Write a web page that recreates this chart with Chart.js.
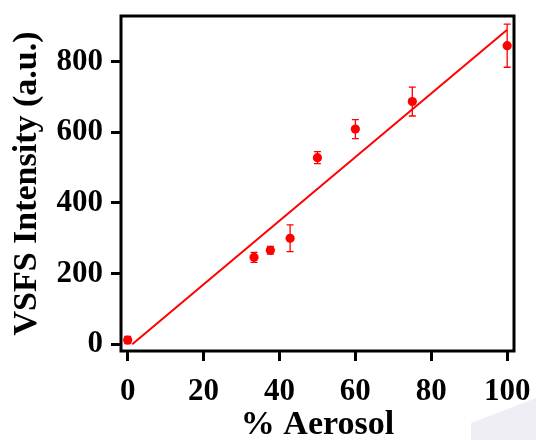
<!DOCTYPE html>
<html>
<head>
<meta charset="utf-8">
<script src="https://cdn.jsdelivr.net/npm/chart.js"></script>
<style>
  html, body { margin: 0; padding: 0; background: #fff; }
  #wrap { width: 536px; height: 440px; position: relative; }
</style>
</head>
<body>
<div id="wrap"><canvas id="vsfsChart" width="536" height="440"></canvas></div>
<script>
// VSFS intensity vs. aerosol fraction, with error bars and linear fit
const aerosolPct = [0, 33.3, 37.6, 42.8, 50, 60, 75, 100];
const intensity = [12, 246, 266, 300, 528, 609, 687, 845];
const intensityErr = [10, 14, 11, 38, 17, 27, 41, 61];

const fitX = [1.2, 100];
const fitY = [0, 890];

const xTicks = [0, 20, 40, 60, 80, 100];
const yTicks = [0, 200, 400, 600, 800];

const RED = '#ff0000';
const serif = 'Liberation Serif, Times New Roman, serif';

// vertical error bars with small caps
const errorBars = {
  id: 'errorBars',
  beforeDatasetsDraw(chart) {
    const { ctx, scales: { x, y } } = chart;
    ctx.save();
    ctx.strokeStyle = RED;
    ctx.lineWidth = 1.3;
    aerosolPct.forEach((v, i) => {
      const px = x.getPixelForValue(v);
      const top = y.getPixelForValue(intensity[i] + intensityErr[i]);
      const bot = y.getPixelForValue(intensity[i] - intensityErr[i]);
      ctx.beginPath();
      ctx.moveTo(px, top); ctx.lineTo(px, bot);
      ctx.moveTo(px - 3.5, top); ctx.lineTo(px + 3.5, top);
      ctx.moveTo(px - 3.5, bot); ctx.lineTo(px + 3.5, bot);
      ctx.stroke();
    });
    ctx.restore();
  }
};

// thick black frame round the plot area
const frame = {
  id: 'frame',
  afterDraw(chart) {
    const { ctx, chartArea: a } = chart;
    ctx.save();
    ctx.strokeStyle = '#000';
    ctx.lineWidth = 3;
    ctx.strokeRect(a.left, a.top, a.right - a.left, a.bottom - a.top);
    ctx.restore();
  }
};

// faint grey corner shape at the bottom right
const corner = {
  id: 'corner',
  beforeDraw(chart) {
    const { ctx, width, height } = chart;
    ctx.save();
    ctx.fillStyle = '#eeeef4';
    ctx.beginPath();
    ctx.moveTo(471, height);
    ctx.lineTo(471, 423);
    ctx.lineTo(width, 398);
    ctx.lineTo(width, height);
    ctx.closePath();
    ctx.fill();
    ctx.restore();
  }
};

new Chart(document.getElementById('vsfsChart'), {
  type: 'scatter',
  data: {
    datasets: [
      {
        label: 'data',
        data: aerosolPct.map((v, i) => ({ x: v, y: intensity[i] })),
        backgroundColor: RED,
        borderWidth: 0,
        pointRadius: 4.6,
        pointHoverRadius: 4.6
      },
      {
        label: 'fit',
        type: 'line',
        data: fitX.map((v, i) => ({ x: v, y: fitY[i] })),
        borderColor: RED,
        borderWidth: 2,
        pointRadius: 0,
        fill: false
      }
    ]
  },
  options: {
    responsive: false,
    animation: false,
    events: [],
    layout: { padding: { top: 16, right: 22, left: 0, bottom: 0 } },
    plugins: { legend: { display: false }, tooltip: { enabled: false } },
    scales: {
      x: {
        type: 'linear',
        min: -1.76,
        max: 101.8,
        afterBuildTicks: s => { s.ticks = xTicks.map(v => ({ value: v })); },
        afterFit: s => { s.height = 89; s.paddingLeft = 0; s.paddingRight = 0; },
        grid: { drawOnChartArea: false, drawTicks: true, tickLength: 10, tickWidth: 3, tickColor: '#000' },
        border: { display: false },
        ticks: { color: '#000', padding: 12, maxRotation: 0, font: { family: serif, size: 31, weight: 'bold' } },
        title: {
          display: true,
          text: '% Aerosol',
          color: '#000',
          padding: 0,
          font: { family: serif, size: 34, weight: 'bold', lineHeight: 0.85 }
        }
      },
      y: {
        type: 'linear',
        min: -19,
        max: 929,
        afterBuildTicks: s => { s.ticks = yTicks.map(v => ({ value: v })); },
        afterFit: s => { s.width = 121; s.paddingTop = 0; s.paddingBottom = 0; },
        grid: { drawOnChartArea: false, drawTicks: true, tickLength: 10, tickWidth: 3, tickColor: '#000' },
        border: { display: false },
        ticks: { color: '#000', padding: 8, font: { family: serif, size: 31, weight: 'bold' } },
        title: {
          display: true,
          text: 'VSFS Intensity (a.u.)',
          color: '#000',
          padding: { top: 10, bottom: 0 },
          font: { family: serif, size: 34, weight: 'bold', lineHeight: 1 }
        }
      }
    }
  },
  plugins: [corner, errorBars, frame]
});
</script>
</body>
</html>
